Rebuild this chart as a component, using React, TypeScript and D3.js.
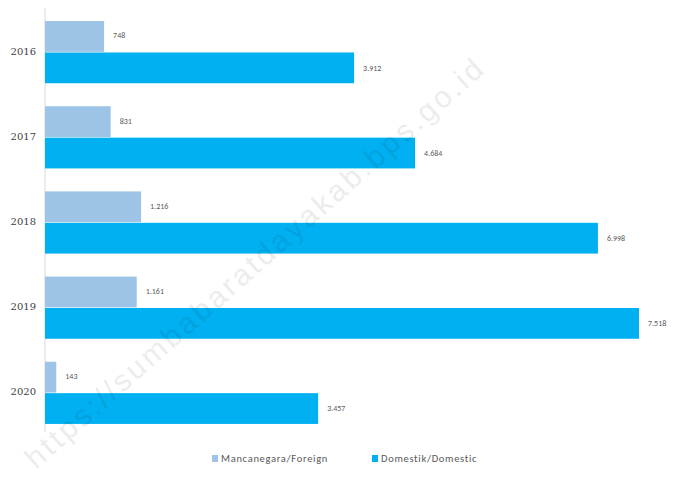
import React from "react";
import * as d3 from "d3";

const years = ["2016", "2017", "2018", "2019", "2020"];
const foreign = [748, 831, 1216, 1161, 143];
const domestic = [3912, 4684, 6998, 7518, 3457];
const foreignLabels = ["748", "831", "1.216", "1.161", "143"];
const domesticLabels = ["3.912", "4.684", "6.998", "7.518", "3.457"];
const seriesNames = ["Mancanegara/Foreign", "Domestik/Domestic"];

const W = 674;
const H = 478;
const C_FOREIGN = "#9dc3e6";
const C_DOMESTIC = "#00b0f0";

export default function App() {
  const x = d3.scaleLinear().domain([0, 7518]).range([45, 639]);
  const y = d3.scaleBand().domain(years).range([10, 435]).paddingInner(0.27).paddingOuter(0.13);
  const inner = d3.scaleBand().domain(["f", "d"]).range([0, y.bandwidth()]).paddingInner(0.02);

  return (
    <svg width={W} height={H} style={{ position: "absolute", left: 0, top: 0, background: "#fff" }}
      fontFamily="Carlito, 'Liberation Sans', sans-serif">
      <line x1={45} x2={45} y1={8} y2={432} stroke="#d9d9d9" strokeWidth={1} />
      {years.map((yr, i) => {
        const y0 = y(yr)!;
        const fy = y0 + inner("f")!;
        const dy = y0 + inner("d")!;
        const bh = inner.bandwidth();
        return (
          <g key={yr}>
            <rect x={x(0)} y={fy} width={x(foreign[i]) - x(0)} height={bh} fill={C_FOREIGN} />
            <rect x={x(0)} y={dy} width={x(domestic[i]) - x(0)} height={bh} fill={C_DOMESTIC} />
            <text x={x(foreign[i]) + 9} y={fy + bh / 2} dominantBaseline="middle" fontSize={8} fill="#595959">{foreignLabels[i]}</text>
            <text x={x(domestic[i]) + 9} y={dy + bh / 2 + 1} dominantBaseline="middle" fontSize={8} fill="#595959">{domesticLabels[i]}</text>
            <text x={36} y={y0 + y.bandwidth() / 2} textAnchor="end" dominantBaseline="middle" fontSize={10} fill="#404040" fontFamily="'DejaVu Serif', serif">{yr}</text>
          </g>
        );
      })}
      <g>
        <rect x={212} y={455} width={6} height={7} fill={C_FOREIGN} />
        <text x={221} y={459} dominantBaseline="middle" fontSize={10.5} letterSpacing={0.7} fill="#595959">{seriesNames[0]}</text>
        <rect x={372} y={455} width={6} height={7} fill={C_DOMESTIC} />
        <text x={381} y={459} dominantBaseline="middle" fontSize={10.5} letterSpacing={0.7} fill="#595959">{seriesNames[1]}</text>
      </g>
      <text x={0} y={0} transform="translate(36,470) rotate(-41.5)" fontSize={30} fill="#000" opacity={0.07}
        textLength={600} lengthAdjust="spacing"
        fontFamily="'Liberation Sans', sans-serif">https://sumbabaratdayakab.bps.go.id</text>
    </svg>
  );
}
